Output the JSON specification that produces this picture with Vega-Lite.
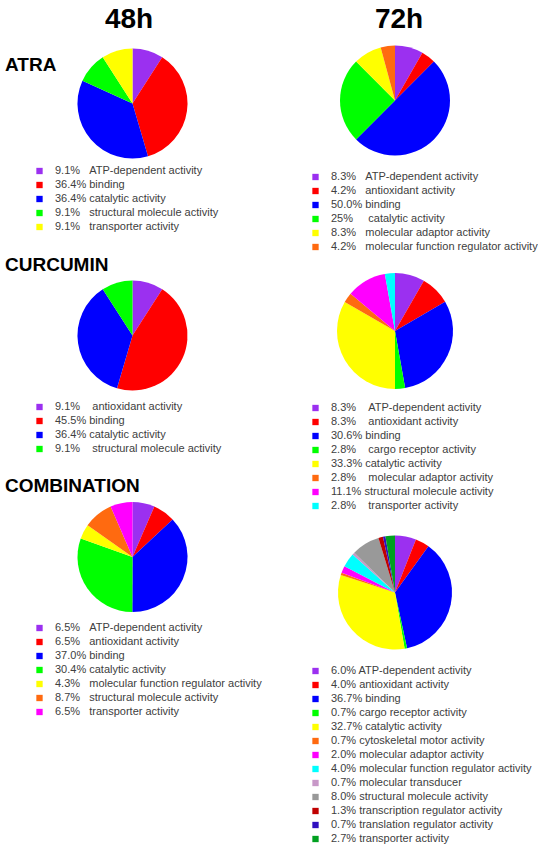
{
  "$schema": "https://vega.github.io/schema/vega-lite/v6.json",
  "padding": 0,
  "background": "white",
  "spacing": 0,
  "resolve": {"scale": {"color": "independent", "theta": "independent"}},
  "config": {
    "view": {"stroke": null},
    "font": "Liberation Sans",
    "title": {"font": "Liberation Sans", "fontSize": 19, "fontWeight": "bold", "color": "#000000", "anchor": "start", "frame": "group", "dx": 5},
    "legend": {
      "orient": "none",
      "title": null,
      "padding": 0,
      "labelFont": "Liberation Sans",
      "labelFontSize": 11,
      "labelColor": "#404040",
      "labelLimit": 320,
      "labelOffset": 10,
      "symbolType": "square",
      "symbolSize": 40,
      "symbolStrokeWidth": 0,
      "rowPadding": 2
    }
  },
  "hconcat": [
    {
      "bounds": "flush",
      "spacing": 0,
      "resolve": {"scale": {"color": "independent", "theta": "independent"}},
      "vconcat": [
        {
          "width": 265,
          "height": 36,
          "data": {"values": [{"t": "48h"}]},
          "mark": {"type": "text", "font": "Liberation Sans", "fontSize": 28, "fontWeight": "bold", "color": "#000000", "baseline": "alphabetic", "dx": -3.5, "dy": 10},
          "encoding": {"text": {"field": "t"}}
        },
        {
          "width": 265,
          "height": 135,
          "title": {"text": "ATRA", "offset": -39},
          "data": {"values": [
            {"label": "9.1%\u00a0\u00a0\u00a0ATP-dependent activity", "value": 9.1, "order": 1},
            {"label": "36.4%\u00a0binding", "value": 36.4, "order": 2},
            {"label": "36.4%\u00a0catalytic activity", "value": 36.4, "order": 3},
            {"label": "9.1%\u00a0\u00a0\u00a0structural molecule activity", "value": 9.1, "order": 4},
            {"label": "9.1%\u00a0\u00a0\u00a0transporter activity", "value": 9.1, "order": 5}
          ]},
          "mark": {"type": "arc", "outerRadius": 55},
          "encoding": {
            "theta": {"field": "value", "type": "quantitative", "stack": true},
            "order": {"field": "order", "type": "quantitative"},
            "color": {
              "field": "label", "type": "nominal",
              "scale": {
                "domain": ["9.1%\u00a0\u00a0\u00a0ATP-dependent activity", "36.4%\u00a0binding", "36.4%\u00a0catalytic activity", "9.1%\u00a0\u00a0\u00a0structural molecule activity", "9.1%\u00a0\u00a0\u00a0transporter activity"],
                "range": ["#9B30F0", "#FF0000", "#0000FF", "#00FF00", "#FFFF00"]
              },
              "legend": {"legendX": 34, "legendY": 129.5}
            }
          }
        },
        {
          "width": 265,
          "height": 329,
          "title": {"text": "CURCUMIN", "offset": -104},
          "data": {"values": [
            {"label": "9.1%\u00a0\u00a0\u00a0\u00a0antioxidant activity", "value": 9.1, "order": 1},
            {"label": "45.5%\u00a0binding", "value": 45.5, "order": 2},
            {"label": "36.4%\u00a0catalytic activity", "value": 36.4, "order": 3},
            {"label": "9.1%\u00a0\u00a0\u00a0\u00a0structural molecule activity", "value": 9.1, "order": 4}
          ]},
          "mark": {"type": "arc", "outerRadius": 55},
          "encoding": {
            "theta": {"field": "value", "type": "quantitative", "stack": true},
            "order": {"field": "order", "type": "quantitative"},
            "color": {
              "field": "label", "type": "nominal",
              "scale": {
                "domain": ["9.1%\u00a0\u00a0\u00a0\u00a0antioxidant activity", "45.5%\u00a0binding", "36.4%\u00a0catalytic activity", "9.1%\u00a0\u00a0\u00a0\u00a0structural molecule activity"],
                "range": ["#9B30F0", "#FF0000", "#0000FF", "#00FF00"]
              },
              "legend": {"legendX": 34, "legendY": 230.5}
            }
          }
        },
        {
          "width": 265,
          "height": 114,
          "title": {"text": "COMBINATION", "offset": 4},
          "data": {"values": [
            {"label": "6.5%\u00a0\u00a0\u00a0ATP-dependent activity", "value": 6.5, "order": 1},
            {"label": "6.5%\u00a0\u00a0\u00a0antioxidant activity", "value": 6.5, "order": 2},
            {"label": "37.0%\u00a0binding", "value": 37.0, "order": 3},
            {"label": "30.4%\u00a0catalytic activity", "value": 30.4, "order": 4},
            {"label": "4.3%\u00a0\u00a0\u00a0molecular function regulator activity", "value": 4.3, "order": 5},
            {"label": "8.7%\u00a0\u00a0\u00a0structural molecule activity", "value": 8.7, "order": 6},
            {"label": "6.5%\u00a0\u00a0\u00a0transporter activity", "value": 6.5, "order": 7}
          ]},
          "mark": {"type": "arc", "outerRadius": 55},
          "encoding": {
            "theta": {"field": "value", "type": "quantitative", "stack": true},
            "order": {"field": "order", "type": "quantitative"},
            "color": {
              "field": "label", "type": "nominal",
              "scale": {
                "domain": ["6.5%\u00a0\u00a0\u00a0ATP-dependent activity", "6.5%\u00a0\u00a0\u00a0antioxidant activity", "37.0%\u00a0binding", "30.4%\u00a0catalytic activity", "4.3%\u00a0\u00a0\u00a0molecular function regulator activity", "8.7%\u00a0\u00a0\u00a0structural molecule activity", "6.5%\u00a0\u00a0\u00a0transporter activity"],
                "range": ["#9B30F0", "#FF0000", "#0000FF", "#00FF00", "#FFFF00", "#FF6A10", "#FF00FF"]
              },
              "legend": {"legendX": 34, "legendY": 122.5}
            }
          }
        }
      ]
    },
    {
      "bounds": "flush",
      "spacing": 0,
      "resolve": {"scale": {"color": "independent", "theta": "independent"}},
      "vconcat": [
        {
          "width": 260,
          "height": 36,
          "data": {"values": [{"t": "72h"}]},
          "mark": {"type": "text", "font": "Liberation Sans", "fontSize": 28, "fontWeight": "bold", "color": "#000000", "baseline": "alphabetic", "dx": 4, "dy": 10},
          "encoding": {"text": {"field": "t"}}
        },
        {
          "width": 260,
          "height": 129,
          "data": {"values": [
            {"label": "8.3%\u00a0\u00a0\u00a0ATP-dependent activity", "value": 8.3, "order": 1},
            {"label": "4.2%\u00a0\u00a0\u00a0antioxidant activity", "value": 4.2, "order": 2},
            {"label": "50.0%\u00a0binding", "value": 50.0, "order": 3},
            {"label": "25%\u00a0\u00a0\u00a0\u00a0\u00a0catalytic activity", "value": 25, "order": 4},
            {"label": "8.3%\u00a0\u00a0\u00a0molecular adaptor activity", "value": 8.3, "order": 5},
            {"label": "4.2%\u00a0\u00a0\u00a0molecular function regulator activity", "value": 4.2, "order": 6}
          ]},
          "mark": {"type": "arc", "outerRadius": 55},
          "encoding": {
            "theta": {"field": "value", "type": "quantitative", "stack": true},
            "order": {"field": "order", "type": "quantitative"},
            "color": {
              "field": "label", "type": "nominal",
              "scale": {
                "domain": ["8.3%\u00a0\u00a0\u00a0ATP-dependent activity", "4.2%\u00a0\u00a0\u00a0antioxidant activity", "50.0%\u00a0binding", "25%\u00a0\u00a0\u00a0\u00a0\u00a0catalytic activity", "8.3%\u00a0\u00a0\u00a0molecular adaptor activity", "4.2%\u00a0\u00a0\u00a0molecular function regulator activity"],
                "range": ["#9B30F0", "#FF0000", "#0000FF", "#00FF00", "#FFFF00", "#FF6A10"]
              },
              "legend": {"legendX": 45, "legendY": 135.5}
            }
          }
        },
        {
          "width": 260,
          "height": 332,
          "data": {"values": [
            {"label": "8.3%\u00a0\u00a0\u00a0\u00a0ATP-dependent activity", "value": 8.3, "order": 1},
            {"label": "8.3%\u00a0\u00a0\u00a0\u00a0antioxidant activity", "value": 8.3, "order": 2},
            {"label": "30.6%\u00a0binding", "value": 30.6, "order": 3},
            {"label": "2.8%\u00a0\u00a0\u00a0\u00a0cargo receptor activity", "value": 2.8, "order": 4},
            {"label": "33.3%\u00a0catalytic activity", "value": 33.3, "order": 5},
            {"label": "2.8%\u00a0\u00a0\u00a0\u00a0molecular adaptor activity", "value": 2.8, "order": 6},
            {"label": "11.1%\u00a0structural molecule activity", "value": 11.1, "order": 7},
            {"label": "2.8%\u00a0\u00a0\u00a0\u00a0transporter activity", "value": 2.8, "order": 8}
          ]},
          "mark": {"type": "arc", "outerRadius": 58},
          "encoding": {
            "theta": {"field": "value", "type": "quantitative", "stack": true},
            "order": {"field": "order", "type": "quantitative"},
            "color": {
              "field": "label", "type": "nominal",
              "scale": {
                "domain": ["8.3%\u00a0\u00a0\u00a0\u00a0ATP-dependent activity", "8.3%\u00a0\u00a0\u00a0\u00a0antioxidant activity", "30.6%\u00a0binding", "2.8%\u00a0\u00a0\u00a0\u00a0cargo receptor activity", "33.3%\u00a0catalytic activity", "2.8%\u00a0\u00a0\u00a0\u00a0molecular adaptor activity", "11.1%\u00a0structural molecule activity", "2.8%\u00a0\u00a0\u00a0\u00a0transporter activity"],
                "range": ["#9B30F0", "#FF0000", "#0000FF", "#00FF00", "#FFFF00", "#FF6A10", "#FF00FF", "#00FFFF"]
              },
              "legend": {"legendX": 45, "legendY": 237.5}
            }
          }
        },
        {
          "width": 260,
          "height": 191,
          "data": {"values": [
            {"label": "6.0% ATP-dependent activity", "value": 6.0, "order": 1},
            {"label": "4.0% antioxidant activity", "value": 4.0, "order": 2},
            {"label": "36.7% binding", "value": 36.7, "order": 3},
            {"label": "0.7% cargo receptor activity", "value": 0.7, "order": 4},
            {"label": "32.7% catalytic activity", "value": 32.7, "order": 5},
            {"label": "0.7% cytoskeletal motor activity", "value": 0.7, "order": 6},
            {"label": "2.0% molecular adaptor activity", "value": 2.0, "order": 7},
            {"label": "4.0% molecular function regulator activity", "value": 4.0, "order": 8},
            {"label": "0.7% molecular transducer", "value": 0.7, "order": 9},
            {"label": "8.0% structural molecule activity", "value": 8.0, "order": 10},
            {"label": "1.3% transcription regulator activity", "value": 1.3, "order": 11},
            {"label": "0.7% translation regulator activity", "value": 0.7, "order": 12},
            {"label": "2.7% transporter activity", "value": 2.7, "order": 13}
          ]},
          "mark": {"type": "arc", "outerRadius": 57},
          "encoding": {
            "theta": {"field": "value", "type": "quantitative", "stack": true},
            "order": {"field": "order", "type": "quantitative"},
            "color": {
              "field": "label", "type": "nominal",
              "scale": {
                "domain": ["6.0% ATP-dependent activity", "4.0% antioxidant activity", "36.7% binding", "0.7% cargo receptor activity", "32.7% catalytic activity", "0.7% cytoskeletal motor activity", "2.0% molecular adaptor activity", "4.0% molecular function regulator activity", "0.7% molecular transducer", "8.0% structural molecule activity", "1.3% transcription regulator activity", "0.7% translation regulator activity", "2.7% transporter activity"],
                "range": ["#9B30F0", "#FF0000", "#0000FF", "#00FF00", "#FFFF00", "#FF6A10", "#FF00FF", "#00FFFF", "#C898C8", "#999999", "#C00000", "#3010C0", "#00A020"]
              },
              "legend": {"legendX": 45, "legendY": 168.5}
            }
          }
        }
      ]
    }
  ]
}
